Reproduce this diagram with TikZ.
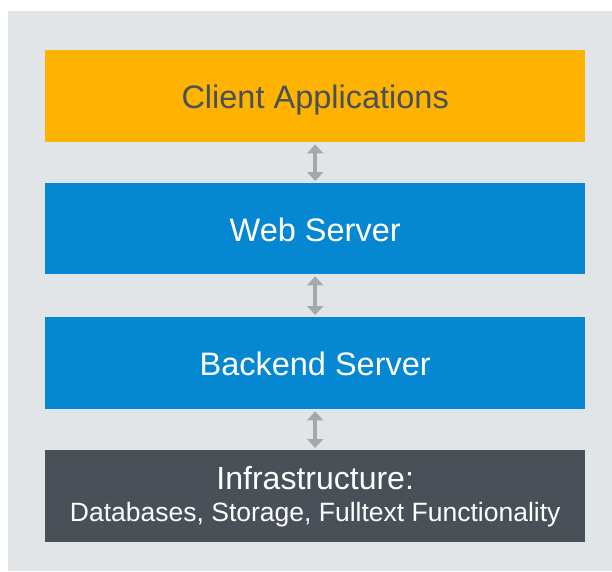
\documentclass[tikz,border=0pt]{standalone}
\usepackage{fontspec}
\setmainfont{Liberation Sans}
\usetikzlibrary{arrows.meta}
\definecolor{bg}{HTML}{E1E5E8}
\definecolor{orangec}{HTML}{FDB300}
\definecolor{bluec}{HTML}{0587D2}
\definecolor{darkc}{HTML}{495057}
\definecolor{arrowc}{HTML}{A3A8AC}
\begin{document}
\begin{tikzpicture}[x=1pt,y=-1pt,
  layer/.style={draw=none,minimum width=540pt,minimum height=92pt,inner sep=0pt,align=center,anchor=north west,font=\fontsize{32.5}{36}\selectfont},
  oneline/.style={text height=25pt,text depth=0pt},
  conn/.style={draw=arrowc,line width=4.5pt,{Triangle[width=16pt,length=9pt]}-{Triangle[width=16pt,length=9pt]},shorten <=2pt,shorten >=2pt}]
\useasboundingbox (0,0) rectangle (612,571);
\fill[white] (0,0) rectangle (612,571);
\fill[bg] (8,11) rectangle (612,571);
\node[layer,oneline,fill=orangec,text=darkc] (client) at (45,50) {Client Applications};
\node[layer,oneline,fill=bluec,text=white,minimum height=91pt] (web) at (45,183) {Web Server};
\node[layer,oneline,fill=bluec,text=white,minimum height=92pt] (backend) at (45,317) {Backend Server};
\node[layer,fill=darkc,text=white,minimum height=92pt,font=\fontsize{26.5}{32}\selectfont] (infra) at (45,450) {{\fontsize{32}{32}\selectfont Infrastructure:}\\Databases, Storage, Fulltext Functionality};
\draw[conn] (client.south) -- (web.north);
\draw[conn] (web.south) -- (backend.north);
\draw[conn] (backend.south) -- (infra.north);
\end{tikzpicture}
\end{document}
